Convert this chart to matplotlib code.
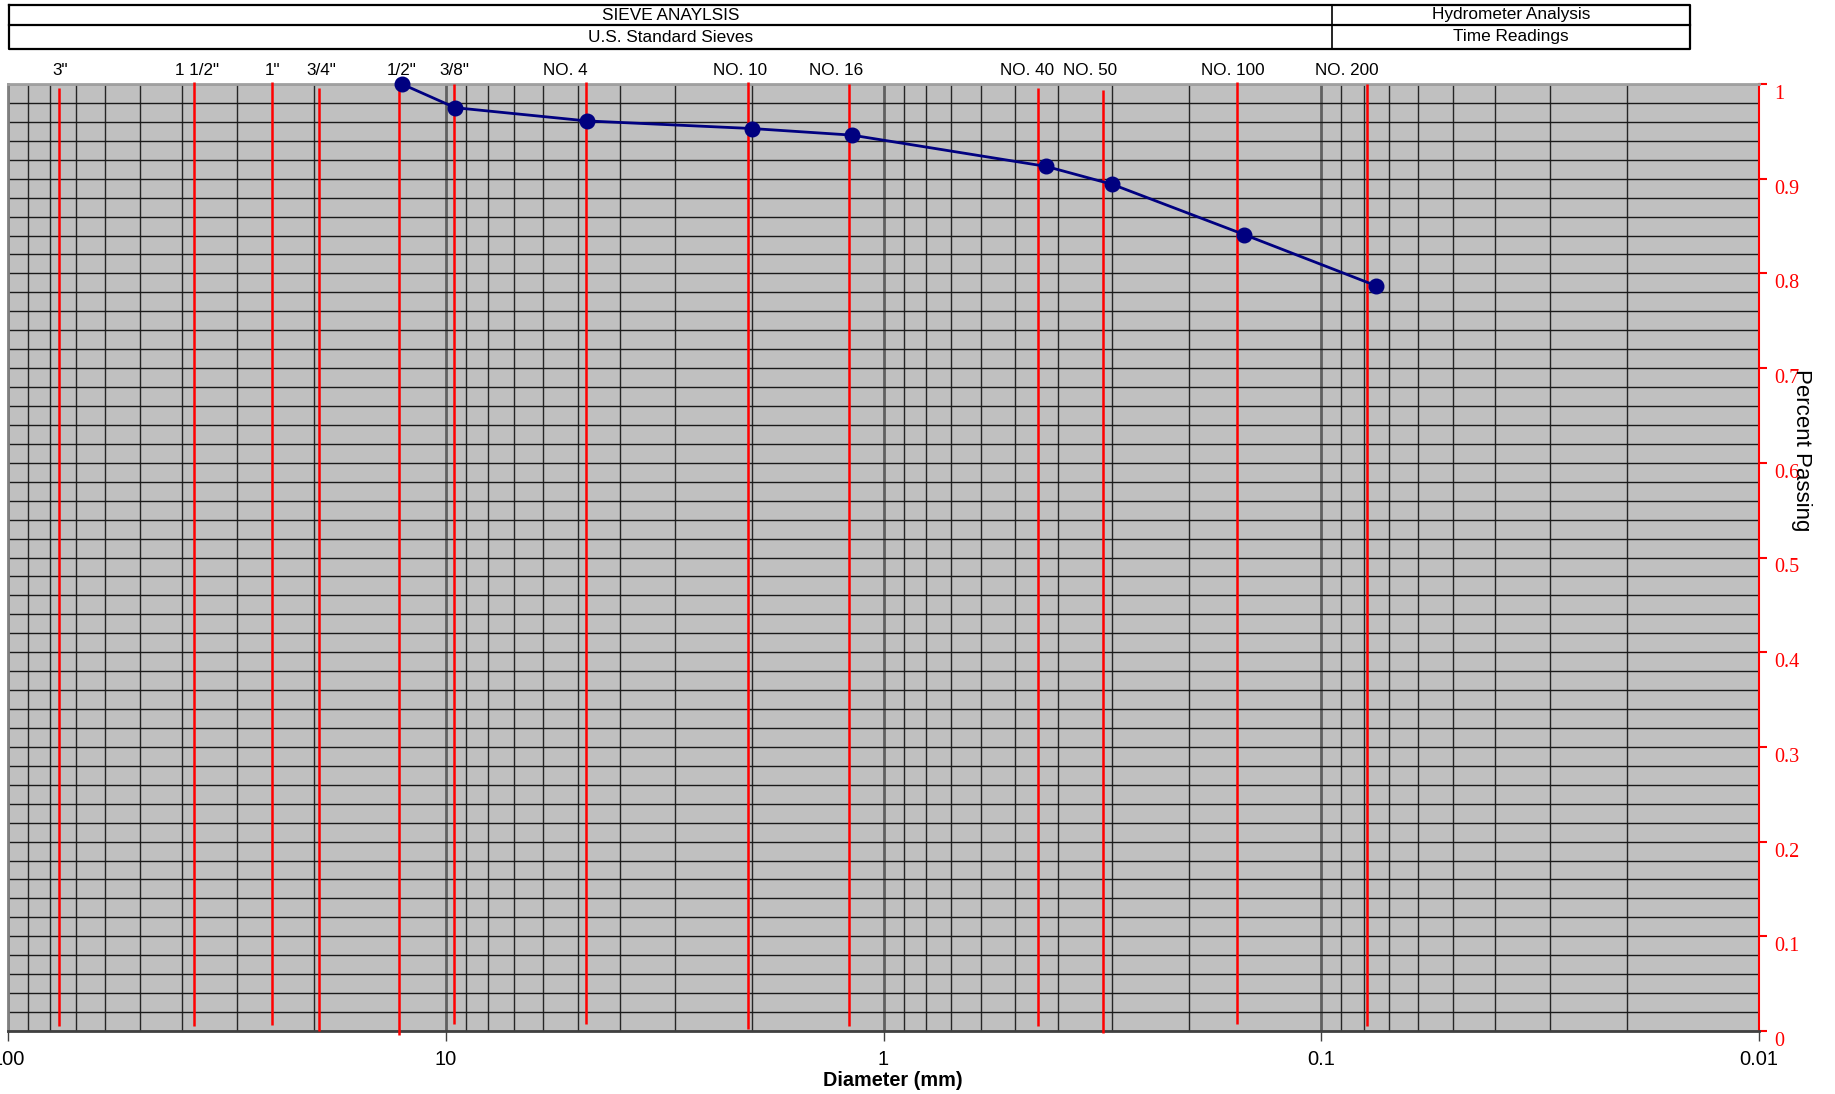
import matplotlib
matplotlib.use('Agg')
import matplotlib.pyplot as plt
from matplotlib.ticker import LogLocator, MultipleLocator, FixedLocator, NullFormatter
from matplotlib.transforms import blended_transform_factory, ScaledTranslation

plt.rcParams['font.family'] = ['Liberation Sans', 'DejaVu Sans']

# Grain size data (diameter in mm, fraction passing).
diameter = [12.6, 9.52, 4.76, 2.0, 1.18, 0.425, 0.30, 0.15, 0.075]
passing = [1.0, 0.975, 0.961, 0.953, 0.946, 0.913, 0.894, 0.841, 0.787]

# Sieve marker lines.
sieve_names = ['3"', '1 1/2"', '1"', '3/4"', '1/2"', '3/8"', 'NO. 4', 'NO. 10',
	'NO. 16', 'NO. 40', 'NO. 50', 'NO. 100', 'NO. 200']
sieve_size = [76.3, 37.6, 24.9, 19.5, 12.8, 9.56, 4.79, 2.04, 1.2, 0.443, 0.316, 0.1555, 0.0788]
sieve_top = [0.996, 1.0025, 1.0025, 0.996, 0.996, 1.0, 1.0025, 1.0025, 1.0, 0.996, 0.994, 1.0025, 1.0]
sieve_bottom = [0.005, 0.005, 0.006, 0.0, -0.004, 0.007, 0.007, 0.0025, 0.005, 0.005, -0.0025, 0.007, 0.005]
label_x = [75.8, 36.9, 24.9, 19.2, 12.6, 9.56, 5.33, 2.13, 1.28, 0.470, 0.337, 0.159, 0.0875]

x_ticks = [100, 10, 1, 0.1, 0.01]
x_tick_labels = ['100', '10', '1', '0.1', '0.01']
y_ticks = [0, 0.1, 0.2, 0.3, 0.4, 0.5, 0.6, 0.7, 0.8, 0.9, 1]
y_tick_labels = ['0', '0.1', '0.2', '0.3', '0.4', '0.5', '0.6', '0.7', '0.8', '0.9', '1']

W, H = 1835, 1094
fig = plt.figure(figsize=(W / 100, H / 100), dpi=100)
ax = fig.add_axes([8 / W, 63 / H, (1759 - 8) / W, (1031 - 84) / H])
ax.set_facecolor('#c0c0c0')

ax.set_xscale('log')
ax.set_xlim(100, 0.01)
ax.set_ylim(0, 1)

#Grid lines.
ax.xaxis.set_major_locator(FixedLocator(x_ticks))
ax.xaxis.set_minor_locator(LogLocator(base=10, subs=[2, 3, 4, 5, 6, 7, 8, 9]))
ax.xaxis.set_minor_formatter(NullFormatter())
ax.set_xticklabels(x_tick_labels)
ax.yaxis.set_major_locator(FixedLocator(y_ticks))
ax.yaxis.set_minor_locator(MultipleLocator(0.02))
ax.grid(True, which='major', axis='x', color='#606060', lw=2)
ax.grid(True, which='minor', axis='x', color='#262626', lw=1)
ax.grid(True, which='both', axis='y', color='#1a1a1a', lw=1)
ax.set_axisbelow(True)

#Axis styling.
ax.yaxis.tick_right()
ax.set_yticklabels(y_tick_labels, family=['Liberation Serif', 'DejaVu Serif'],
	fontsize=14.5, color='red')
ax.tick_params(axis='y', which='major', colors='red', length=6, width=1.5, pad=5)
ax.tick_params(axis='y', which='minor', length=0)
ax.tick_params(axis='x', which='major', length=7, width=1, color='#404040',
	labelsize=14.5, pad=7)
ax.tick_params(axis='x', which='minor', length=0)
for lab in ax.get_yticklabels():
	lab.set_transform(lab.get_transform() + ScaledTranslation(0, -8 / 100, fig.dpi_scale_trans))

ax.spines['left'].set_color('#808080')
ax.spines['left'].set_linewidth(2)
ax.spines['top'].set_color('#a0a0a0')
ax.spines['top'].set_linewidth(2)
ax.spines['bottom'].set_color('#404040')
ax.spines['bottom'].set_linewidth(2)
ax.spines['right'].set_color('red')
ax.spines['right'].set_linewidth(1.5)

#Sieve lines and names.
ax.vlines(sieve_size, sieve_bottom, sieve_top, color='red', lw=1.8, clip_on=False, zorder=3)
trans = blended_transform_factory(ax.transData, ax.transAxes)
for name, lx in zip(sieve_names, label_x):
	ax.text(lx, 1.0145, name, transform=trans, ha='center', va='center', fontsize=12.3)

#Gradation curve.
ax.plot(diameter, passing, color='#000080', lw=2, marker='o', ms=10.5,
	clip_on=False, zorder=5)

#Axis titles.
fig.text(893 / W, 1 - 1081 / H, 'Diameter (mm)', ha='center', va='center',
	fontsize=14.3, fontweight='bold')
fig.text(1801 / W, 1 - 450 / H, 'Percent Passing', ha='center', va='center',
	fontsize=16, rotation=270)

#Header table.
hd = fig.add_axes([0, 0, 1, 1])
hd.set_xlim(0, W)
hd.set_ylim(H, 0)
hd.axis('off')
hd.patch.set_alpha(0)
hd.plot([9, 1690, 1690, 9, 9], [5, 5, 49, 49, 5], color='black', lw=1.6)
hd.plot([9, 1690], [25, 25], color='black', lw=1.6)
hd.plot([1332, 1332], [5, 49], color='black', lw=1.2)
hd.text(671, 15, 'SIEVE ANAYLSIS', ha='center', va='center', fontsize=12.4)
hd.text(671, 37, 'U.S. Standard Sieves', ha='center', va='center', fontsize=12.4)
hd.text(1511, 15, 'Hydrometer Analysis', ha='center', va='center', fontsize=12.4)
hd.text(1511, 37, 'Time Readings', ha='center', va='center', fontsize=12.4)

fig.savefig('out.png', dpi=100)
